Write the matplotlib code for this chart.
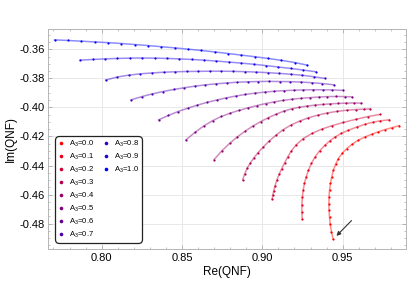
import numpy as np
import matplotlib
matplotlib.use("Agg")
import matplotlib.pyplot as plt
from matplotlib.lines import Line2D
from matplotlib.ticker import MultipleLocator, AutoMinorLocator

plt.rcParams['font.family'] = ['Liberation Sans', 'DejaVu Sans']
plt.rcParams['mathtext.fontset'] = 'custom'
plt.rcParams['mathtext.rm'] = 'Liberation Sans'
plt.rcParams['mathtext.default'] = 'regular'

# QNF curves, one per A3 value
a3_values = [0.0, 0.1, 0.2, 0.3, 0.4, 0.5, 0.6, 0.7, 0.8, 0.9, 1.0]

re_00 = [0.9440, 0.9430, 0.9422, 0.9418, 0.9415, 0.9414, 0.9415, 0.9418, 0.9424, 0.9432, 0.9442, 0.9456,
         0.9473, 0.9497, 0.9526, 0.9560, 0.9598, 0.9639, 0.9681, 0.9722, 0.9764, 0.9808, 0.9852]
im_00 = [-0.4906, -0.4856, -0.4806, -0.4757, -0.4708, -0.4662, -0.4617, -0.4570, -0.4524, -0.4478, -0.4432, -0.4391,
         -0.4352, -0.4316, -0.4283, -0.4252, -0.4225, -0.4203, -0.4184, -0.4167, -0.4152, -0.4139, -0.4125]

re_01 = [0.9248, 0.9246, 0.9246, 0.9249, 0.9254, 0.9262, 0.9273, 0.9287, 0.9305, 0.9328, 0.9356, 0.9390,
         0.9420, 0.9453, 0.9492, 0.9536, 0.9587, 0.9640, 0.9687, 0.9733, 0.9791]
im_01 = [-0.4770, -0.4720, -0.4670, -0.4620, -0.4570, -0.4524, -0.4477, -0.4432, -0.4386, -0.4341, -0.4299, -0.4260,
         -0.4230, -0.4203, -0.4178, -0.4157, -0.4135, -0.4115, -0.4102, -0.4092, -0.4085]

re_02 = [0.9061, 0.9065, 0.9070, 0.9079, 0.9090, 0.9104, 0.9120, 0.9138, 0.9157, 0.9180, 0.9210, 0.9255,
         0.9310, 0.9370, 0.9435, 0.9505, 0.9580, 0.9655, 0.9731]
im_02 = [-0.4632, -0.4605, -0.4578, -0.4541, -0.4501, -0.4462, -0.4423, -0.4383, -0.4343, -0.4300, -0.4258, -0.4214,
         -0.4178, -0.4149, -0.4125, -0.4103, -0.4082, -0.4063, -0.4048]

re_03 = [0.8878, 0.8890, 0.8905, 0.8923, 0.8945, 0.8973, 0.9006, 0.9043, 0.9085, 0.9131, 0.9180, 0.9232,
         0.9287, 0.9344, 0.9403, 0.9463, 0.9524, 0.9585, 0.9630, 0.9673]
im_03 = [-0.4497, -0.4458, -0.4420, -0.4386, -0.4351, -0.4311, -0.4272, -0.4231, -0.4191, -0.4152, -0.4120, -0.4094,
         -0.4071, -0.4053, -0.4038, -0.4027, -0.4019, -0.4014, -0.4012, -0.4010]

re_04 = [0.8700, 0.8748, 0.8797, 0.8845, 0.8893, 0.8941, 0.8990, 0.9038, 0.9086, 0.9134, 0.9183, 0.9231,
         0.9279, 0.9327, 0.9376, 0.9424, 0.9472, 0.9520, 0.9569, 0.9617]
im_04 = [-0.4359, -0.4299, -0.4247, -0.4202, -0.4163, -0.4128, -0.4097, -0.4070, -0.4046, -0.4025, -0.4009, -0.3998,
         -0.3990, -0.3984, -0.3979, -0.3975, -0.3972, -0.3970, -0.3969, -0.3970]

re_05 = [0.8525, 0.8580, 0.8635, 0.8690, 0.8745, 0.8800, 0.8855, 0.8910, 0.8965, 0.9020, 0.9075, 0.9130,
         0.9185, 0.9240, 0.9295, 0.9350, 0.9405, 0.9460, 0.9515, 0.9559]
im_05 = [-0.4223, -0.4172, -0.4128, -0.4091, -0.4062, -0.4039, -0.4020, -0.4003, -0.3987, -0.3973, -0.3961, -0.3951,
         -0.3943, -0.3937, -0.3932, -0.3928, -0.3925, -0.3924, -0.3925, -0.3927]

re_06 = [0.8355, 0.8415, 0.8475, 0.8535, 0.8595, 0.8655, 0.8715, 0.8775, 0.8835, 0.8895, 0.8955, 0.9015,
         0.9075, 0.9135, 0.9195, 0.9255, 0.9315, 0.9375, 0.9435, 0.9504]
im_06 = [-0.4085, -0.4055, -0.4028, -0.4005, -0.3984, -0.3965, -0.3949, -0.3934, -0.3921, -0.3910, -0.3901, -0.3894,
         -0.3888, -0.3884, -0.3881, -0.3879, -0.3878, -0.3878, -0.3879, -0.3882]

re_07 = [0.8184, 0.8250, 0.8316, 0.8382, 0.8448, 0.8514, 0.8580, 0.8646, 0.8712, 0.8778, 0.8844, 0.8910,
         0.8976, 0.9042, 0.9108, 0.9174, 0.9240, 0.9306, 0.9372, 0.9447]
im_07 = [-0.3947, -0.3925, -0.3906, -0.3890, -0.3876, -0.3864, -0.3853, -0.3844, -0.3837, -0.3831, -0.3826, -0.3823,
         -0.3821, -0.3820, -0.3821, -0.3822, -0.3825, -0.3829, -0.3835, -0.3844]

re_08 = [0.8025, 0.8097, 0.8169, 0.8241, 0.8313, 0.8385, 0.8457, 0.8529, 0.8601, 0.8673, 0.8745, 0.8817,
         0.8889, 0.8961, 0.9033, 0.9105, 0.9177, 0.9249, 0.9321, 0.9391]
im_08 = [-0.3811, -0.3790, -0.3777, -0.3768, -0.3762, -0.3757, -0.3754, -0.3752, -0.3751, -0.3750, -0.3750, -0.3751,
         -0.3753, -0.3756, -0.3760, -0.3765, -0.3771, -0.3778, -0.3788, -0.3800]

re_09 = [0.7867, 0.7944, 0.8021, 0.8098, 0.8175, 0.8252, 0.8329, 0.8406, 0.8483, 0.8560, 0.8637, 0.8714,
         0.8791, 0.8868, 0.8945, 0.9022, 0.9099, 0.9176, 0.9253, 0.9335]
im_09 = [-0.3674, -0.3669, -0.3665, -0.3662, -0.3660, -0.3659, -0.3660, -0.3662, -0.3665, -0.3669, -0.3674, -0.3680,
         -0.3687, -0.3694, -0.3702, -0.3711, -0.3721, -0.3731, -0.3742, -0.3754]

re_10 = [0.7707, 0.7790, 0.7873, 0.7956, 0.8039, 0.8122, 0.8205, 0.8288, 0.8371, 0.8454, 0.8537, 0.8620,
         0.8703, 0.8786, 0.8869, 0.8952, 0.9035, 0.9118, 0.9201, 0.9278]
im_10 = [-0.3534, -0.3538, -0.3543, -0.3548, -0.3553, -0.3559, -0.3566, -0.3573, -0.3581, -0.3589, -0.3598, -0.3607,
         -0.3617, -0.3628, -0.3639, -0.3650, -0.3662, -0.3675, -0.3690, -0.3708]

re_curves = [re_00, re_01, re_02, re_03, re_04, re_05, re_06, re_07, re_08, re_09, re_10]
im_curves = [im_00, im_01, im_02, im_03, im_04, im_05, im_06, im_07, im_08, im_09, im_10]

# arrow pointing at the end of the A3=0 curve
arrow_tail = (0.9567, -0.4766)
arrow_head = (0.9449, -0.4899)

fig = plt.figure(figsize=(4.09, 3.07), dpi=100)
ax = fig.add_axes([0.1181, 0.1873, 0.8738, 0.7192])

handles = []
for a3, xs, ys in zip(a3_values, re_curves, im_curves):
    c = (1.0 - a3, 0.0, a3)
    ax.plot(xs, ys, '-', color=c, alpha=0.45, lw=1.1, zorder=3)
    ax.plot(xs, ys, 'o', color=c, ms=1.6, mew=0, zorder=4)
    handles.append(Line2D([], [], ls='', marker='o', color=c, ms=2.6, mew=0,
                          label=r'A$_3$=%.1f' % a3))

# pad second legend column so it holds 3 entries and the first 8
blank = [Line2D([], [], ls='', marker='', label='') for _ in range(5)]
lgd = ax.legend(handles=handles + blank, ncol=2, loc='lower left',
                bbox_to_anchor=(0.018, 0.028), borderaxespad=0, fontsize=5.5,
                labelspacing=0.36, columnspacing=1.2, handlelength=0.8,
                handletextpad=0.6, borderpad=0.45, frameon=True, fancybox=True)
fr = lgd.get_frame()
fr.set_edgecolor('#222222')
fr.set_linewidth(0.9)
fr.set_alpha(1)
fr.set_boxstyle('round,pad=0.,rounding_size=0.6')

ax.annotate('', xy=arrow_head, xytext=arrow_tail,
            arrowprops=dict(arrowstyle='-|>', color='#333333', lw=0.8, mutation_scale=6),
            zorder=5)

ax.set_xlim(0.7668, 0.9892)
ax.set_ylim(-0.4979, -0.3457)
ax.xaxis.set_major_locator(MultipleLocator(0.05))
ax.yaxis.set_major_locator(MultipleLocator(0.02))
ax.xaxis.set_minor_locator(AutoMinorLocator(5))
ax.yaxis.set_minor_locator(AutoMinorLocator(4))
ax.xaxis.set_major_formatter(matplotlib.ticker.FormatStrFormatter('%.2f'))
ax.yaxis.set_major_formatter(matplotlib.ticker.FormatStrFormatter('%.2f'))
ax.tick_params(which='both', direction='in', top=True, right=True, color='#aaaaaa',
               labelsize=8, pad=2.5)
ax.tick_params(which='major', length=3, width=0.6)
ax.tick_params(which='minor', length=1.6, width=0.5)
ax.grid(True, which='major', color='#e8e8e8', lw=0.7, zorder=0)
ax.set_axisbelow(True)
for s in ax.spines.values():
    s.set_color('#b5b5b5')
    s.set_linewidth(0.7)

ax.set_xlabel('Re(QNF)', fontsize=8.5, labelpad=2)
ax.set_ylabel('Im(QNF)', fontsize=8.5, labelpad=2)

plt.savefig('out.png', dpi=100)
